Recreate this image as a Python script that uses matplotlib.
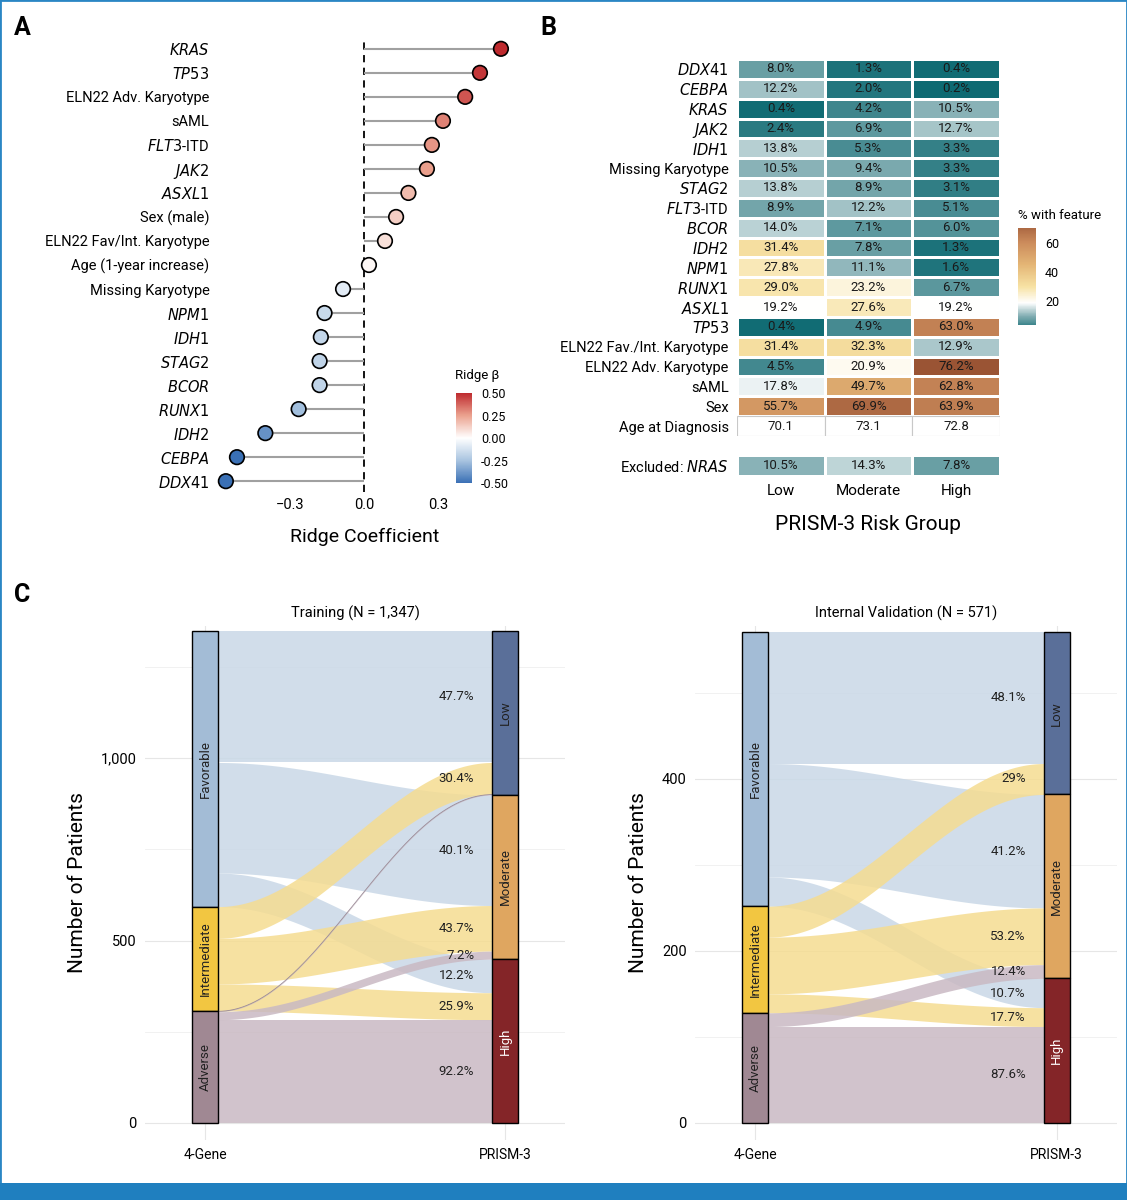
import numpy as np
import matplotlib
matplotlib.use("Agg")
import matplotlib.pyplot as plt
from matplotlib.colors import LinearSegmentedColormap, Normalize
from matplotlib.patches import Rectangle
import matplotlib.cm as cm

plt.rcParams['font.family'] = ['Roboto', 'DejaVu Sans']

# ---------------- data ----------------
ridge_labels = ["KRAS", "TP53", "ELN22 Adv. Karyotype", "sAML", "FLT3-ITD", "JAK2", "ASXL1",
                "Sex (male)", "ELN22 Fav/Int. Karyotype", "Age (1-year increase)", "Missing Karyotype",
                "NPM1", "IDH1", "STAG2", "BCOR", "RUNX1", "IDH2", "CEBPA", "DDX41"]
ridge_beta = [0.555, 0.47, 0.41, 0.32, 0.275, 0.255, 0.18, 0.13, 0.085, 0.02, -0.085,
              -0.16, -0.175, -0.18, -0.18, -0.265, -0.40, -0.515, -0.56]
genes = {"KRAS", "TP53", "JAK2", "ASXL1", "NPM1", "IDH1", "STAG2", "BCOR", "RUNX1", "IDH2",
         "CEBPA", "DDX41", "NRAS"}

heat_rows = ["DDX41", "CEBPA", "KRAS", "JAK2", "IDH1", "Missing Karyotype", "STAG2", "FLT3-ITD",
             "BCOR", "IDH2", "NPM1", "RUNX1", "ASXL1", "TP53", "ELN22 Fav./Int. Karyotype",
             "ELN22 Adv. Karyotype", "sAML", "Sex", "Age at Diagnosis"]
heat_cols = ["Low", "Moderate", "High"]
heat_low = [8.0, 12.2, 0.4, 2.4, 13.8, 10.5, 13.8, 8.9, 14.0, 31.4, 27.8, 29.0, 19.2, 0.4, 31.4, 4.5, 17.8, 55.7, 70.1]
heat_mod = [1.3, 2.0, 4.2, 6.9, 5.3, 9.4, 8.9, 12.2, 7.1, 7.8, 11.1, 23.2, 27.6, 4.9, 32.3, 20.9, 49.7, 69.9, 73.1]
heat_high = [0.4, 0.2, 10.5, 12.7, 3.3, 3.3, 3.1, 5.1, 6.0, 1.3, 1.6, 6.7, 19.2, 63.0, 12.9, 76.2, 62.8, 63.9, 72.8]
nras_vals = [10.5, 14.3, 7.8]

sources = ["Favorable", "Intermediate", "Adverse"]
targets = ["Low", "Moderate", "High"]
# counts[source][target]
train_counts = [[360, 303, 92], [87, 125, 74], [2, 22, 283]]
train_labels = [["47.7%", "40.1%", "12.2%"], ["30.4%", "43.7%", "25.9%"], ["", "7.2%", "92.2%"]]
val_counts = [[153, 132, 34], [36, 66, 22], [0, 16, 112]]
val_labels = [["48.1%", "41.2%", "10.7%"], ["29%", "53.2%", "17.7%"], ["", "12.4%", "87.6%"]]

# ---------------- figure ----------------
W, H = 1127, 1200
fig = plt.figure(figsize=(W / 100, H / 100), dpi=100)

def ax_px(x0, y0, x1, y1):
    return fig.add_axes([x0 / W, 1 - y1 / H, (x1 - x0) / W, (y1 - y0) / H])

# frame & bottom bar
fig.patches.append(Rectangle((0, 0), 1, 1, transform=fig.transFigure, fill=False,
                             edgecolor='#2a86c4', linewidth=2))
fig.patches.append(Rectangle((0, 0), 1, 17 / H, transform=fig.transFigure,
                             facecolor='#1f7fbf', edgecolor='none'))

for lab, x, y in [("A", 14, 28), ("B", 540, 28), ("C", 14, 595)]:
    fig.text(x / W, 1 - y / H, lab, fontsize=18, fontweight='bold', va='center')

def fmt_label(s):
    if s in genes:
        return r"$\it{" + s + "}$"
    if s == "FLT3-ITD":
        return r"$\it{FLT3}$-ITD"
    return s

# ---------------- Panel A ----------------
axA = ax_px(215, 38, 515, 492)
cmapA = LinearSegmentedColormap.from_list("rb", ["#3a70b5", "#a9c4e0", "#ffffff", "#eba28f", "#be2a2e"])
normA = Normalize(-0.5, 0.5)
n = len(ridge_labels)
ypos = np.arange(n)
axA.axvline(0, color='black', linestyle=(0, (4, 3)), linewidth=1.3, zorder=1)
axA.hlines(ypos, 0, ridge_beta, color='#a0a0a0', linewidth=1.5, zorder=2)
axA.scatter(ridge_beta, ypos, s=110, c=ridge_beta, cmap=cmapA, norm=normA,
            edgecolors='black', linewidths=1.2, zorder=3)
axA.set_ylim(n - 0.55, -0.45)
axA.set_xlim(-0.604, 0.612)
axA.set_yticks(ypos)
axA.set_yticklabels([fmt_label(s) for s in ridge_labels], fontsize=10.5)
axA.set_xticks([-0.3, 0.0, 0.3])
axA.set_xticklabels(["\u22120.3", "0.0", "0.3"], fontsize=10.5)
axA.tick_params(length=0, pad=4)
for sp in axA.spines.values():
    sp.set_visible(False)
axA.set_xlabel("Ridge Coefficient", fontsize=14, labelpad=12)

caxA = ax_px(456, 393, 472, 483)
cbA = fig.colorbar(cm.ScalarMappable(norm=normA, cmap=cmapA), cax=caxA)
cbA.set_ticks([0.5, 0.25, 0.0, -0.25, -0.5])
cbA.set_ticklabels(["0.50", "0.25", "0.00", "-0.25", "-0.50"])
cbA.ax.tick_params(labelsize=9, length=3, color='white')
cbA.outline.set_visible(False)
fig.text(455 / W, 1 - 375 / H, "Ridge \u03b2", fontsize=9.5, va='center')

# ---------------- Panel B ----------------
cmapB = LinearSegmentedColormap.from_list("tb", [(0, '#0e6a72'), (10 / 76, '#83aeb3'), (19 / 76, '#ffffff'),
                                                 (30 / 76, '#f7e2a4'), (45 / 76, '#e4b676'),
                                                 (60 / 76, '#cc8c5c'), (1, '#9a5434')])
normB = Normalize(0, 76)
axB = ax_px(737, 59, 1000, 436)
M = np.array([heat_low, heat_mod, heat_high]).T
nr = len(heat_rows)
Mm = np.ma.masked_array(M, mask=np.zeros_like(M, dtype=bool))
Mm.mask[-1, :] = True
axB.pcolormesh(np.arange(4), np.arange(nr + 1), Mm, cmap=cmapB, norm=normB,
               edgecolors='white', linewidth=0.8)
for j in range(3):
    axB.add_patch(Rectangle((j, nr - 1), 1, 1, facecolor='white', edgecolor='#c8c8c8', linewidth=0.8))
for i in range(nr):
    for j in range(3):
        v = M[i, j]
        txt = f"{v:.1f}" if i == nr - 1 else f"{v:.1f}%"
        axB.text(j + 0.5, i + 0.5, txt, ha='center', va='center', fontsize=9.5, color='#1a1a1a')
axB.set_xlim(0, 3)
axB.set_ylim(nr, 0)
axB.set_yticks(np.arange(nr) + 0.5)
axB.set_yticklabels([fmt_label(s) for s in heat_rows], fontsize=10.5)
axB.set_xticks([])
axB.tick_params(length=0, pad=6)
for sp in axB.spines.values():
    sp.set_visible(False)

axN = ax_px(737, 455, 1000, 476)
axN.pcolormesh(np.arange(4), np.arange(2), np.array([nras_vals]), cmap=cmapB, norm=normB,
               edgecolors='white', linewidth=0.8)
for j, v in enumerate(nras_vals):
    axN.text(j + 0.5, 0.5, f"{v:.1f}%", ha='center', va='center', fontsize=9.5, color='#1a1a1a')
axN.set_xlim(0, 3)
axN.set_ylim(1, 0)
axN.set_yticks([0.5])
axN.set_yticklabels([r"Excluded: $\it{NRAS}$"], fontsize=10.5)
axN.set_xticks([0.5, 1.5, 2.5])
axN.set_xticklabels(heat_cols, fontsize=11)
axN.tick_params(length=0, pad=6)
for sp in axN.spines.values():
    sp.set_visible(False)
fig.text(868 / W, 1 - 524 / H, "PRISM-3 Risk Group", fontsize=15, ha='center', va='center')

caxB = ax_px(1018, 228, 1036, 325)
cbB = fig.colorbar(cm.ScalarMappable(norm=normB, cmap=cmapB), cax=caxB)
cbB.ax.set_ylim(4, 70)
cbB.set_ticks([20, 40, 60])
cbB.ax.tick_params(labelsize=9, length=3, color='white')
cbB.outline.set_visible(False)
fig.text(1018 / W, 1 - 216 / H, "% with feature", fontsize=9.5, va='center')

# ---------------- Panel C ----------------
src_col = ['#a3bcd6', '#f2c641', '#a08893']
flow_col = ['#c9d8e7', '#f5dc91', '#c9b9c3']
tgt_col = ['#5a6f99', '#dfa660', '#842528']
tgt_txt = ['#222222', '#222222', 'white']

def alluvial(ax, counts, labels, title, yticks, yticklabels):
    w = 0.085
    counts = np.array(counts, dtype=float)
    N = counts.sum()
    src_tot = counts.sum(axis=1)
    tgt_tot = counts.sum(axis=0)
    # left intervals
    left = {}
    top = N
    for s in range(3):
        for t in range(3):
            left[(s, t)] = (top - counts[s, t], top)
            top -= counts[s, t]
    right = {}
    top = N
    for t in range(3):
        for s in range(3):
            right[(s, t)] = (top - counts[s, t], top)
            top -= counts[s, t]
    xl, xr = 1 + w / 2, 2 - w / 2
    xs = np.linspace(xl, xr, 200)
    sm = (1 - np.cos(np.pi * (xs - xl) / (xr - xl))) / 2
    for s in range(3):
        for t in range(3):
            if counts[s, t] <= 0:
                continue
            (lb, lt), (rb, rt) = left[(s, t)], right[(s, t)]
            yb = lb + (rb - lb) * sm
            yt = lt + (rt - lt) * sm
            ax.fill_between(xs, yb, yt, color=flow_col[s], alpha=0.85, linewidth=0, zorder=2)
            if counts[s, t] < 5:
                ax.plot(xs, (yb + yt) / 2, color='#9a8a96', linewidth=0.6, zorder=2)
            if labels[s][t]:
                ax.text(xr - 0.06, (rb + rt) / 2, labels[s][t], ha='right', va='center',
                        fontsize=9.5, color='#222222', zorder=5)
    top = N
    for s in range(3):
        b = top - src_tot[s]
        ax.add_patch(Rectangle((1 - w / 2, b), w, src_tot[s], facecolor=src_col[s],
                               edgecolor='black', linewidth=1, zorder=4))
        ax.text(1, b + src_tot[s] / 2, sources[s], rotation=90, ha='center', va='center',
                fontsize=9.5, color='#222222', zorder=5)
        top = b
    top = N
    for t in range(3):
        b = top - tgt_tot[t]
        ax.add_patch(Rectangle((2 - w / 2, b), w, tgt_tot[t], facecolor=tgt_col[t],
                               edgecolor='black', linewidth=1, zorder=4))
        ax.text(2, b + tgt_tot[t] / 2, targets[t], rotation=90, ha='center', va='center',
                fontsize=9.5, color=tgt_txt[t], zorder=5)
        top = b
    ax.set_xlim(0.8, 2.2)
    ax.set_xticks([1, 2])
    ax.set_xticklabels(["4-Gene", "PRISM-3"], fontsize=10)
    ax.set_yticks(yticks)
    ax.set_yticklabels(yticklabels, fontsize=10.5)
    ax.grid(True, color='#e6e6e6', linewidth=0.8)
    ax.set_yticks([v + (yticks[1] - yticks[0]) / 2 for v in yticks], minor=True)
    ax.grid(True, which='minor', axis='y', color='#efefef', linewidth=0.6)
    ax.tick_params(length=0, pad=6, which='both')
    ax.set_axisbelow(True)
    for sp in ax.spines.values():
        sp.set_visible(False)
    ax.set_title(title, fontsize=10.5, pad=6)
    ax.set_ylabel("Number of Patients", fontsize=15, labelpad=10)

axC1 = ax_px(145, 626, 565, 1140)
alluvial(axC1, train_counts, train_labels, "Training (N = 1,347)", [0, 500, 1000], ["0", "500", "1,000"])
axC1.set_ylim(-46.6, 1362)

axC2 = ax_px(695, 626, 1117, 1140)
alluvial(axC2, val_counts, val_labels, "Internal Validation (N = 571)", [0, 200, 400], ["0", "200", "400"])
axC2.set_ylim(-20, 578)

fig.savefig("out.png", dpi=100, facecolor='white')
